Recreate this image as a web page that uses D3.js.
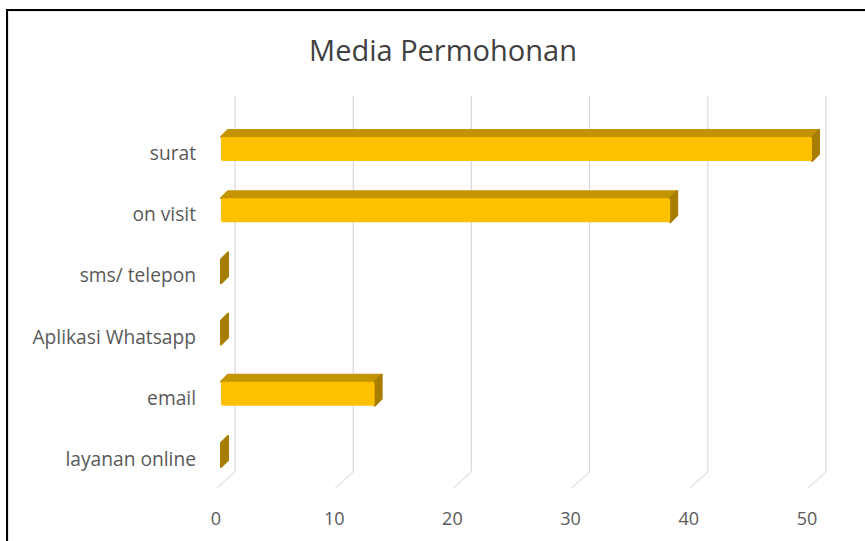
<!DOCTYPE html>
<html>
<head>
<meta charset="utf-8">
<script src="https://cdn.jsdelivr.net/npm/d3@7"></script>
<style>
  body { margin: 0; background: #fff; }
  text { font-family: "Open Sans", sans-serif; fill: #595959; }
</style>
</head>
<body>
<svg width="865" height="541"></svg>
<script>
var categories = ['surat', 'on visit', 'sms/ telepon', 'Aplikasi Whatsapp', 'email', 'layanan online'];
var values = [50, 38, 0, 0, 13, 0];
var ticks = [0, 10, 20, 30, 40, 50];
var title = 'Media Permohonan';

var data = categories.map((c, i) => ({name: c, value: values[i]}));

var depth = {dx: 7, dy: -7};      // bar 3d offset
var wall = {dx: 14, dy: -14};     // back wall offset for gridlines
var barH = 24;

var svg = d3.select('svg');

// frame
svg.append('rect')
    .attr('x', 8).attr('y', 11)
    .attr('width', 900).attr('height', 600)
    .attr('fill', 'none').attr('stroke', '#e6e6e6').attr('stroke-width', 2);
svg.append('rect')
    .attr('x', 7).attr('y', 10)
    .attr('width', 900).attr('height', 600)
    .attr('fill', 'none').attr('stroke', '#000').attr('stroke-width', 2);

// scales
var xScale = d3.scaleLinear()
    .domain([0, 50])
    .range([221, 812]);
var yScale = d3.scalePoint()
    .domain(categories)
    .range([149, 455]);

// title
svg.append('text')
    .attr('x', 443).attr('y', 61)
    .attr('text-anchor', 'middle')
    .attr('font-size', 29)
    .style('fill', '#404040')
    .text(title);

// gridlines on the back wall + floor slants
var gridTop = 96, gridBottom = 472;
svg.selectAll('.grid')
    .data(ticks)
    .enter().append('line')
    .attr('x1', d => xScale(d) + wall.dx).attr('x2', d => xScale(d) + wall.dx)
    .attr('y1', gridTop).attr('y2', gridBottom)
    .attr('stroke', '#d9d9d9').attr('stroke-width', 1.2);
svg.selectAll('.floor')
    .data(ticks)
    .enter().append('line')
    .attr('x1', d => xScale(d) + wall.dx).attr('y1', gridBottom)
    .attr('x2', d => xScale(d) - 4).attr('y2', gridBottom + 16)
    .attr('stroke', '#e3e3e3').attr('stroke-width', 1.2);

// tick labels
svg.selectAll('.tick')
    .data(ticks)
    .enter().append('text')
    .attr('x', d => xScale(d) - 5)
    .attr('y', 525)
    .attr('text-anchor', 'middle')
    .attr('font-size', 18)
    .text(d => d);

// category labels
svg.selectAll('.cat')
    .data(data)
    .enter().append('text')
    .attr('x', 196)
    .attr('y', d => yScale(d.name) + 11)
    .attr('text-anchor', 'end')
    .attr('font-size', 19.2)
    .text(d => d.name);

// bars
var bars = svg.selectAll('.bar')
    .data(data)
    .enter().append('g');

// top face
bars.filter(d => d.value > 0).append('path')
    .attr('d', d => {
        var x0 = xScale(0), x1 = xScale(d.value), y0 = yScale(d.name) - barH / 2;
        return 'M' + [x0, y0] + 'L' + [x0 + depth.dx, y0 + depth.dy] +
            'L' + [x1 + depth.dx, y0 + depth.dy] + 'L' + [x1, y0] + 'Z';
    })
    .attr('fill', '#C49400')
    .attr('stroke', '#C49400').attr('stroke-linejoin', 'round').attr('stroke-width', 2);

// right side face
bars.append('path')
    .attr('d', d => {
        var x1 = xScale(d.value), y0 = yScale(d.name) - barH / 2, y1 = y0 + barH;
        return 'M' + [x1, y0] + 'L' + [x1 + depth.dx, y0 + depth.dy] +
            'L' + [x1 + depth.dx, y1 + depth.dy] + 'L' + [x1, y1] + 'Z';
    })
    .attr('fill', '#A87E00')
    .attr('stroke', '#A87E00').attr('stroke-linejoin', 'round').attr('stroke-width', 2);

// front face
bars.filter(d => d.value > 0).append('rect')
    .attr('x', xScale(0))
    .attr('y', d => yScale(d.name) - barH / 2)
    .attr('width', d => xScale(d.value) - xScale(0))
    .attr('height', barH)
    .attr('rx', 2)
    .attr('fill', '#FFC000');
</script>
</body>
</html>
